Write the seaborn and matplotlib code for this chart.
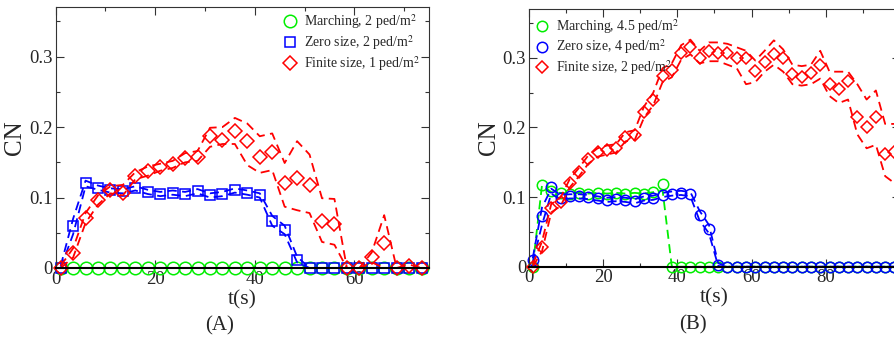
import matplotlib
matplotlib.use("Agg")
import matplotlib.pyplot as plt
import seaborn as sns

# time stamps (s)
t_a = [1, 3.5, 6, 8.5, 11, 13.5, 16, 18.5, 21, 23.5, 26, 28.5, 31, 33.5, 36,
       38.5, 41, 43.5, 46, 48.5, 51, 53.5, 56, 58.5, 61, 63.5, 66, 68.5, 71, 73.5]
t_b = [1, 3.5, 6, 8.5, 11, 13.5, 16, 18.5, 21, 23.5, 26, 28.5, 31, 33.5, 36,
       38.5, 41, 43.5, 46, 48.5, 51, 53.5, 56, 58.5, 61, 63.5, 66, 68.5, 71, 73.5,
       76, 78.5, 81, 83.5, 86, 88.5, 91, 93.5, 96, 98.5]

# panel A
green_a = [0] * 30
blue_a = [0, 0.059, 0.121, 0.114, 0.110, 0.109, 0.113, 0.108, 0.105, 0.107,
          0.105, 0.109, 0.103, 0.105, 0.110, 0.107, 0.103, 0.066, 0.054, 0.012,
          0, 0, 0, 0, 0, 0, 0, 0, 0, 0]
blue_a_hi = [0.003, 0.070, 0.124, 0.117, 0.113, 0.112, 0.116, 0.111, 0.108, 0.110,
             0.108, 0.112, 0.106, 0.108, 0.113, 0.110, 0.106, 0.074, 0.060, 0.016,
             0, 0, 0, 0, 0, 0, 0, 0, 0, 0]
blue_a_lo = [0, 0.048, 0.116, 0.111, 0.107, 0.106, 0.110, 0.105, 0.102, 0.104,
             0.102, 0.106, 0.100, 0.102, 0.107, 0.104, 0.100, 0.060, 0.048, 0.008,
             0, 0, 0, 0, 0, 0, 0, 0, 0, 0]
red_a = [0, 0.021, 0.071, 0.096, 0.111, 0.107, 0.131, 0.137, 0.143, 0.147,
         0.156, 0.158, 0.187, 0.182, 0.195, 0.180, 0.158, 0.165, 0.120, 0.128,
         0.118, 0.067, 0.063, 0, 0, 0.015, 0.035, 0, 0.003, 0]
red_a_hi = [0.003, 0.028, 0.078, 0.103, 0.116, 0.118, 0.136, 0.144, 0.148, 0.152,
            0.163, 0.166, 0.199, 0.200, 0.213, 0.205, 0.187, 0.191, 0.149, 0.180,
            0.161, 0.099, 0.098, 0, 0, 0.022, 0.075, 0, 0.005, 0]
red_a_lo = [0, 0.015, 0.064, 0.090, 0.106, 0.103, 0.126, 0.131, 0.138, 0.142,
            0.150, 0.152, 0.172, 0.176, 0.176, 0.146, 0.135, 0.139, 0.087, 0.082,
            0.078, 0.037, 0.033, 0, 0, 0.008, 0, 0, 0, 0]

# panel B
green_b = [0, 0.117, 0.109, 0.106, 0.105, 0.106, 0.105, 0.106, 0.105, 0.106,
           0.105, 0.106, 0.105, 0.107, 0.119] + [0] * 25
green_b_band = [0, 0.117, 0.107, 0.106, 0.105, 0.106, 0.105, 0.106, 0.105, 0.106,
                0.105, 0.106, 0.105, 0.107, 0.110] + [0] * 25
blue_b = [0.009, 0.073, 0.115, 0.099, 0.101, 0.101, 0.100, 0.098, 0.096, 0.097,
          0.096, 0.094, 0.098, 0.099, 0.103, 0.105, 0.106, 0.104, 0.074, 0.054,
          0.003] + [0] * 19
blue_b_hi = [0.012, 0.085, 0.112, 0.103, 0.104, 0.104, 0.103, 0.101, 0.099, 0.100,
             0.099, 0.097, 0.101, 0.102, 0.106, 0.108, 0.109, 0.107, 0.080, 0.060,
             0.005] + [0] * 19
blue_b_lo = [0.006, 0.060, 0.105, 0.096, 0.098, 0.098, 0.097, 0.095, 0.093, 0.094,
             0.093, 0.091, 0.095, 0.096, 0.100, 0.102, 0.103, 0.101, 0.066, 0.048,
             0.001] + [0] * 19
red_b = [0, 0.029, 0.084, 0.093, 0.120, 0.136, 0.154, 0.164, 0.167, 0.170,
         0.186, 0.189, 0.222, 0.240, 0.274, 0.282, 0.307, 0.315, 0.299, 0.309,
         0.307, 0.307, 0.299, 0.300, 0.281, 0.294, 0.306, 0.300, 0.277, 0.273,
         0.278, 0.289, 0.262, 0.255, 0.266, 0.215, 0.201, 0.215, 0.162, 0.165]
red_b_hi = [0.003, 0.036, 0.090, 0.099, 0.126, 0.142, 0.160, 0.170, 0.174, 0.176,
            0.193, 0.196, 0.230, 0.250, 0.285, 0.292, 0.318, 0.326, 0.310, 0.322,
            0.322, 0.320, 0.315, 0.310, 0.296, 0.310, 0.325, 0.312, 0.290, 0.288,
            0.290, 0.310, 0.280, 0.280, 0.280, 0.262, 0.240, 0.253, 0.205, 0.205]
red_b_lo = [0, 0.022, 0.078, 0.087, 0.114, 0.130, 0.148, 0.158, 0.161, 0.164,
            0.180, 0.182, 0.214, 0.232, 0.265, 0.272, 0.297, 0.305, 0.292, 0.295,
            0.295, 0.290, 0.285, 0.262, 0.265, 0.280, 0.290, 0.280, 0.262, 0.260,
            0.262, 0.270, 0.245, 0.235, 0.240, 0.190, 0.170, 0.175, 0.130, 0.120]

labels_a = ["Marching, 2 ped/m$^2$", "Zero size, 2 ped/m$^2$", "Finite size, 1 ped/m$^2$"]
labels_b = ["Marching, 4.5 ped/m$^2$", "Zero size, 4 ped/m$^2$", "Finite size, 2 ped/m$^2$"]

sns.set_style("ticks")
plt.rcParams["font.family"] = ["Liberation Serif", "DejaVu Serif"]
plt.rcParams["mathtext.fontset"] = "stix"

GREEN, BLUE, RED = "#00ee00", "#0000ff", "#ff0000"


def series(ax, t, mean, bands, color, marker, ms, label):
    for b in bands:
        sns.lineplot(x=t, y=b, ax=ax, color=color, lw=1.3,
                     linestyle=(0, (5, 3)), label="_nolegend_")
    sns.lineplot(x=t, y=mean, ax=ax, color=color, linestyle="", marker=marker,
                 markersize=ms, markerfacecolor="none", markeredgecolor=color,
                 markeredgewidth=1.1, clip_on=False, label=label)


def style(ax, xmax, xmax_label):
    ax.set_xlim(0, xmax)
    ax.set_ylim(0, 0.37)
    ticks = list(range(0, xmax + 1, 20))
    ax.set_xticks(ticks)
    ax.set_xticklabels([str(v) if v <= xmax_label else "" for v in ticks])
    ax.set_xticks(range(10, xmax, 20), minor=True)
    ax.set_yticks([0, 0.1, 0.2, 0.3])
    ax.set_yticklabels(["0", "0.1", "0.2", "0.3"])
    ax.set_yticks([0.05, 0.15, 0.25, 0.35], minor=True)
    ax.tick_params(which="both", direction="in", top=True, right=True,
                   labelsize=13.5, pad=2, color="#333333")
    ax.tick_params(which="major", length=5.5, width=0.8)
    ax.tick_params(which="minor", length=3, width=0.8)
    for s in ax.spines.values():
        s.set_linewidth(0.8)
        s.set_color("#333333")
    ax.spines["bottom"].set_linewidth(1.5)
    ax.spines["bottom"].set_color("black")
    ax.set_ylabel("CN", fontsize=18)
    ax.set_xlabel("t(s)", fontsize=15.5)


fig = plt.figure(figsize=(8.95, 3.38), dpi=100)
ax_a = fig.add_axes([55.7 / 895, 70 / 338, 373.3 / 895, 260.7 / 338])
ax_b = fig.add_axes([529 / 895, 71.3 / 338, 371 / 895, 257.7 / 338])

series(ax_a, t_a, green_a, [green_a], GREEN, "o", 9, labels_a[0])
series(ax_a, t_a, blue_a, [blue_a_hi, blue_a_lo], BLUE, "s", 7.5, labels_a[1])
series(ax_a, t_a, red_a, [red_a_hi, red_a_lo], RED, "D", 7.5, labels_a[2])
style(ax_a, 75, 75)

series(ax_b, t_b, green_b, [green_b_band], GREEN, "o", 7.5, labels_b[0])
series(ax_b, t_b, blue_b, [blue_b_hi, blue_b_lo], BLUE, "o", 7.5, labels_b[1])
series(ax_b, t_b, red_b, [red_b_hi, red_b_lo], RED, "D", 6.5, labels_b[2])
style(ax_b, 100, 80)

for ax, xl, off in ((ax_a, 373.3, 30), (ax_b, 371, 29)):
    ax.yaxis.set_label_coords(-off / xl, 0.5)
    ax.xaxis.set_label_coords(0.5, -0.085)

leg_kw = dict(loc="upper left", frameon=False, fontsize=10, handlelength=1.1,
              handletextpad=0.45, labelspacing=0.15, borderpad=0, borderaxespad=0)
ax_a.legend(bbox_to_anchor=(0.607, 0.98), **leg_kw)
ax_b.legend(bbox_to_anchor=(0.015, 0.97), **leg_kw)

fig.text(220 / 895, 1 - 326 / 338, "(A)", ha="center", va="center", fontsize=15)
fig.text(693 / 895, 1 - 325 / 338, "(B)", ha="center", va="center", fontsize=15)

fig.savefig("out.png", dpi=100)
